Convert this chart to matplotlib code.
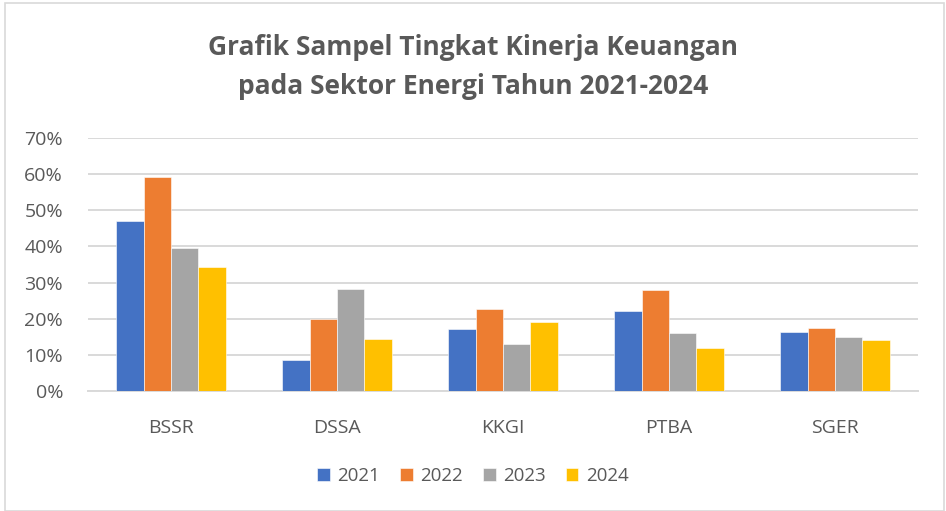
import matplotlib

matplotlib.use("Agg")
import matplotlib.pyplot as plt
import numpy as np
from matplotlib.patches import Rectangle
from matplotlib.ticker import PercentFormatter

# Data (percent)
companies = ["BSSR", "DSSA", "KKGI", "PTBA", "SGER"]
years = ["2021", "2022", "2023", "2024"]
v2021 = [46.9, 8.5, 17.2, 22.0, 16.3]
v2022 = [59.1, 20.0, 22.8, 28.0, 17.4]
v2023 = [39.6, 28.1, 13.0, 16.0, 14.9]
v2024 = [34.2, 14.5, 19.0, 12.0, 14.0]
series = [v2021, v2022, v2023, v2024]
colors = ["#4472C4", "#ED7D31", "#A5A5A5", "#FFC000"]

plt.rcParams["font.family"] = ["Open Sans", "DejaVu Sans"]

fig = plt.figure(figsize=(9.46, 5.11), dpi=100)
ax = fig.add_axes([88 / 946, 1 - 391 / 511, 830 / 946, 253 / 511])

x = np.arange(len(companies))
width = 0.165
for i, (vals, col, yr) in enumerate(zip(series, colors, years)):
    ax.bar(x + (i - 1.5) * width, vals, width, color=col, label=yr,
           edgecolor="white", linewidth=0.4, zorder=3)

ax.set_xlim(-0.5, len(companies) - 0.5)
ax.set_ylim(0, 70)
ax.set_yticks(np.arange(0, 71, 10))
ax.yaxis.set_major_formatter(PercentFormatter(decimals=0))
ax.set_xticks(x)
ax.set_xticklabels(companies)
ax.tick_params(axis="both", length=0, colors="#595959", labelsize=14)
ax.tick_params(axis="x", pad=20)
ax.tick_params(axis="y", pad=18)
ax.grid(axis="y", color="#D9D9D9", linewidth=1.4, zorder=0)
for s in ["top", "right", "left"]:
    ax.spines[s].set_visible(False)
ax.spines["bottom"].set_color("#D9D9D9")
ax.spines["bottom"].set_linewidth(1.4)

fig.text(0.5, 1 - 67 / 511,
         "Grafik Sampel Tingkat Kinerja Keuangan\npada Sektor Energi Tahun 2021-2024",
         ha="center", va="center", fontsize=19, fontweight="bold",
         color="#595959", linespacing=1.55)

fig.legend(loc="center", bbox_to_anchor=(0.5, 1 - 476 / 511), ncol=4,
           frameon=False, fontsize=13.5, handlelength=0.65, handleheight=0.65,
           columnspacing=1.1, handletextpad=0.4, labelcolor="#595959")

fig.patches.append(Rectangle((5 / 946, 0), 1 - 5 / 946 - 2 / 946, 1 - 3 / 511,
                             transform=fig.transFigure, fill=False,
                             edgecolor="#D9D9D9", linewidth=1.2))

fig.savefig("out.png", dpi=100, facecolor="white")
